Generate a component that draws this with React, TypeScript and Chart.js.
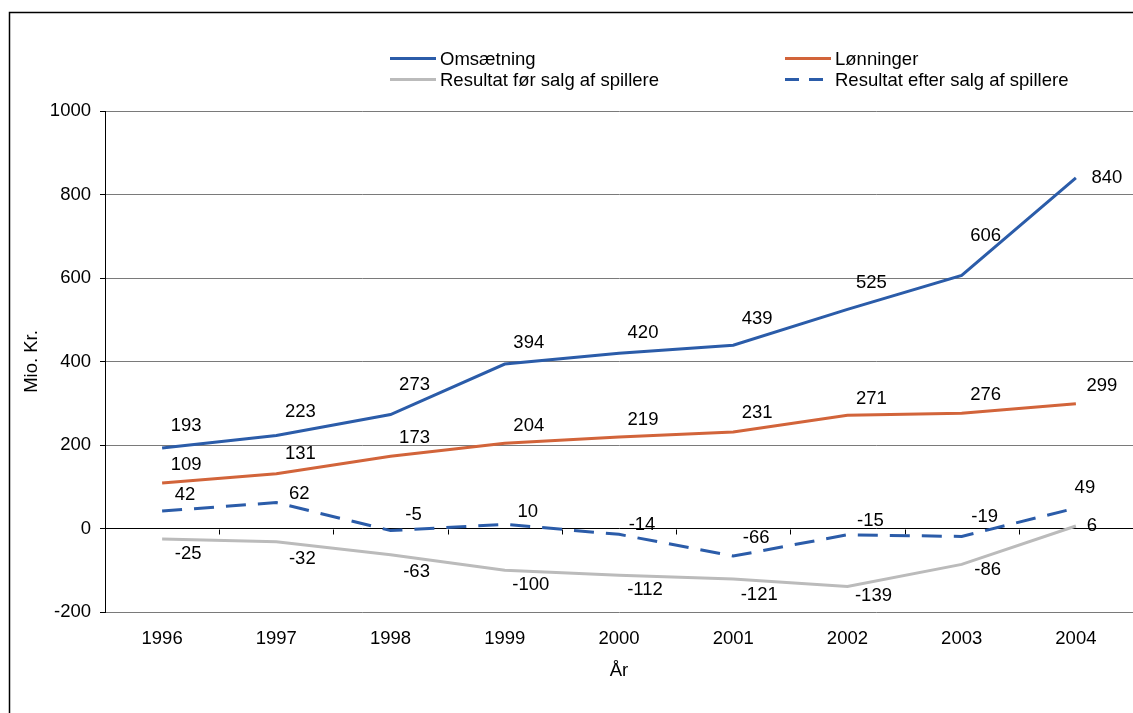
import React, { useEffect, useRef } from "react";
import { Chart, registerables } from "chart.js";

Chart.register(...registerables);

const years = ["1996", "1997", "1998", "1999", "2000", "2001", "2002", "2003", "2004"];
const omsaetning = [193, 223, 273, 394, 420, 439, 525, 606, 840];
const loenninger = [109, 131, 173, 204, 219, 231, 271, 276, 299];
const resultatFoer = [-25, -32, -63, -100, -112, -121, -139, -86, 6];
const resultatEfter = [42, 62, -5, 10, -14, -66, -15, -19, 49];
const yTicks = [-200, 0, 200, 400, 600, 800, 1000];

const FONT_FAMILY = "'Liberation Sans', Arial, Helvetica, sans-serif";
const FONT_SIZE = 18.5;
const BLUE = "#2b5ca9";
const ORANGE = "#d2643a";
const GRAY = "#bbbbbb";

const framePlugin = {
  id: "frame",
  beforeDraw(chart: any) {
    const ctx = chart.ctx;
    ctx.save();
    ctx.strokeStyle = "#000";
    ctx.lineWidth = 1.5;
    ctx.beginPath();
    ctx.moveTo(9.5, chart.height);
    ctx.lineTo(9.5, 12.5);
    ctx.lineTo(chart.width + 5, 12.5);
    ctx.stroke();
    ctx.restore();
  },
};

const zeroTicksPlugin = {
  id: "zeroTicks",
  beforeDatasetsDraw(chart: any) {
    const x = chart.scales.x;
    const y = chart.scales.y;
    const ctx = chart.ctx;
    const y0 = Math.round(y.getPixelForValue(0)) + 0.5;
    ctx.save();
    ctx.strokeStyle = "#000";
    ctx.lineWidth = 1;
    ctx.beginPath();
    for (let k = 1; k < years.length; k++) {
      const px = Math.round((x.getPixelForValue(k - 1) + x.getPixelForValue(k)) / 2) + 0.5;
      ctx.moveTo(px, y0);
      ctx.lineTo(px, y0 + 5);
    }
    ctx.stroke();
    ctx.restore();
  },
};

const labelPlugin = {
  id: "valueLabels",
  afterDatasetsDraw(chart: any) {
    const ctx = chart.ctx;
    ctx.save();
    ctx.font = `${FONT_SIZE}px ${FONT_FAMILY}`;
    ctx.fillStyle = "#000";
    ctx.textAlign = "center";
    ctx.textBaseline = "middle";
    chart.data.datasets.forEach((ds: any, di: number) => {
      const meta = chart.getDatasetMeta(di);
      const pts = meta.data;
      pts.forEach((p: any, i: number) => {
        let lx: number;
        let ly: number;
        if (i < pts.length - 1) {
          const dx = ds.labelDx;
          const n = pts[i + 1];
          const lineY = p.y + ((n.y - p.y) * dx) / (n.x - p.x);
          lx = p.x + dx;
          ly = lineY + ds.labelDy;
        } else {
          lx = p.x + ds.lastDx;
          ly = p.y + ds.lastDy;
        }
        ctx.fillText(String(ds.data[i]), lx, ly);
      });
    });
    ctx.restore();
  },
};

const legendPlugin = {
  id: "customLegend",
  afterDraw(chart: any) {
    const ctx = chart.ctx;
    const colX = [390, 785];
    const rowY = [58.5, 79.5];
    ctx.save();
    ctx.font = `${FONT_SIZE}px ${FONT_FAMILY}`;
    ctx.textAlign = "left";
    ctx.textBaseline = "middle";
    chart.data.datasets.forEach((ds: any, i: number) => {
      const cx = colX[i % 2];
      const cy = rowY[Math.floor(i / 2)];
      ctx.strokeStyle = ds.borderColor;
      ctx.lineWidth = 3;
      ctx.setLineDash(ds.legendDash || []);
      ctx.beginPath();
      ctx.moveTo(cx, cy);
      ctx.lineTo(cx + 46, cy);
      ctx.stroke();
      ctx.setLineDash([]);
      ctx.fillStyle = "#000";
      ctx.fillText(ds.label, cx + 50, cy + 1);
    });
    ctx.restore();
  },
};

export default function App() {
  const canvasRef = useRef<HTMLCanvasElement | null>(null);

  useEffect(() => {
    if (!canvasRef.current) return;
    const font = { family: FONT_FAMILY, size: FONT_SIZE };
    const chart = new Chart(canvasRef.current, {
      type: "line",
      data: {
        labels: years,
        datasets: [
          {
            label: "Omsætning",
            data: omsaetning,
            borderColor: BLUE,
            borderWidth: 3,
            pointRadius: 0,
            labelDx: 24,
            labelDy: -19,
            lastDx: 31,
            lastDy: 0,
          } as any,
          {
            label: "Lønninger",
            data: loenninger,
            borderColor: ORANGE,
            borderWidth: 3,
            pointRadius: 0,
            labelDx: 24,
            labelDy: -16,
            lastDx: 26,
            lastDy: -18,
          } as any,
          {
            label: "Resultat før salg af spillere",
            data: resultatFoer,
            borderColor: GRAY,
            borderWidth: 3,
            pointRadius: 0,
            labelDx: 26,
            labelDy: 14,
            lastDx: 16,
            lastDy: 0,
          } as any,
          {
            label: "Resultat efter salg af spillere",
            data: resultatEfter,
            borderColor: BLUE,
            borderWidth: 3,
            borderDash: [20, 12],
            legendDash: [14, 10],
            pointRadius: 0,
            labelDx: 23,
            labelDy: -14,
            lastDx: 9,
            lastDy: -20,
          } as any,
        ],
      },
      options: {
        responsive: false,
        animation: false,
        layout: { padding: { top: 111, left: 0, right: 0, bottom: 0 } },
        plugins: {
          legend: { display: false },
          tooltip: { enabled: false },
        },
        scales: {
          x: {
            type: "category",
            offset: true,
            grid: { display: false, drawTicks: false },
            border: { display: false },
            ticks: { color: "#000", font, padding: 16, maxRotation: 0, autoSkip: false },
            title: {
              display: true,
              text: "År",
              color: "#000",
              font,
              padding: { top: 0, bottom: 31 },
            },
            afterFit: (s: any) => {
              s.height = 101;
            },
          },
          y: {
            min: yTicks[0],
            max: yTicks[yTicks.length - 1],
            afterBuildTicks: (s: any) => {
              s.ticks = yTicks.map((v) => ({ value: v }));
            },
            ticks: {
              color: "#000",
              font,
              padding: 9,
              callback: (v: any) => String(v),
            },
            grid: {
              color: (c: any) => (c.tick && c.tick.value === 0 ? "#000" : "#7a7a7a"),
              tickColor: "#000",
              tickLength: 5,
              drawTicks: true,
              lineWidth: 1,
            },
            border: { display: true, color: "#000", width: 1 },
            title: {
              display: true,
              text: "Mio. Kr.",
              color: "#000",
              font,
              padding: { top: 21, bottom: 0 },
            },
            afterFit: (s: any) => {
              s.width = 105;
            },
          },
        },
      },
      plugins: [framePlugin, zeroTicksPlugin, labelPlugin, legendPlugin],
    });
    return () => chart.destroy();
  }, []);

  return (
    <div
      style={{
        position: "fixed",
        left: 0,
        top: 0,
        width: 1133,
        height: 713,
        overflow: "hidden",
        background: "#fff",
      }}
    >
      <canvas
        ref={canvasRef}
        width={1133}
        height={713}
        style={{ display: "block", width: 1133, height: 713 }}
      />
    </div>
  );
}
